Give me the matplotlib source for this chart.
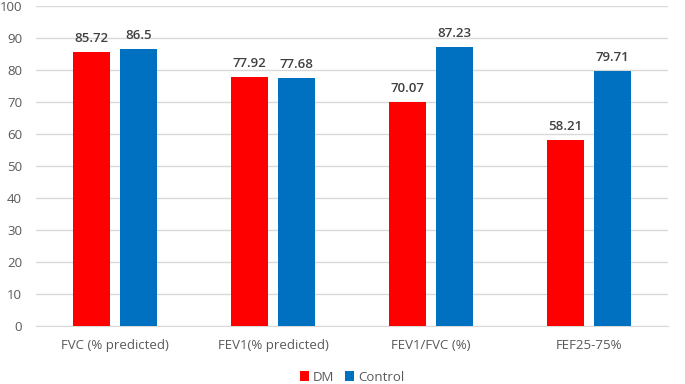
import numpy as np
import matplotlib
matplotlib.use("Agg")
import matplotlib.pyplot as plt

plt.rcParams["font.family"] = ["Open Sans", "DejaVu Sans"]

categories = ["FVC (% predicted)", "FEV1(% predicted)", "FEV1/FVC (%)", "FEF25-75%"]
dm_values = [85.72, 77.92, 70.07, 58.21]
control_values = [86.5, 77.68, 87.23, 79.71]
dm_labels = ["85.72", "77.92", "70.07", "58.21"]
control_labels = ["86.5", "77.68", "87.23", "79.71"]

RED = "#FF0000"
BLUE = "#0070C0"
TXT = "#595959"

fig = plt.figure(figsize=(6.85, 3.84), dpi=100)
ax = fig.add_axes([0.0526, 0.151, 0.9224, 0.833])

x = np.arange(len(categories))
w = 0.234
off = 0.149
b1 = ax.bar(x - off, dm_values, w, color=RED, label="DM", zorder=3)
b2 = ax.bar(x + off, control_values, w, color=BLUE, label="Control", zorder=3)

for bars, labs in ((b1, dm_labels), (b2, control_labels)):
    for r, t in zip(bars, labs):
        ax.annotate(t, (r.get_x() + r.get_width() / 2, r.get_height()),
                    xytext=(0, 5), textcoords="offset points", ha="center", va="bottom",
                    fontsize=9.5, fontweight="semibold", color="#404040")

ax.set_xlim(-0.5, len(categories) - 0.5)
ax.set_ylim(0, 100)
ax.set_yticks(range(0, 101, 10))
ax.grid(axis="y", color="#D9D9D9", linewidth=1, zorder=0)
for s in ("top", "right", "left"):
    ax.spines[s].set_visible(False)
ax.spines["bottom"].set_color("#D9D9D9")
ax.tick_params(axis="y", length=0, labelsize=9.5, colors=TXT, pad=10)
ax.tick_params(axis="x", length=0, labelsize=9.5, colors=TXT, pad=9)
ax.set_xticks(x)
ax.set_xticklabels(categories)

ax.legend(loc="center", bbox_to_anchor=(0.5, -0.16), ncol=2, frameon=False,
          fontsize=9.5, handlelength=0.7, handleheight=0.7, handletextpad=0.3,
          columnspacing=0.8, labelcolor=TXT, borderaxespad=0, borderpad=0.2)

fig.savefig("out.png", dpi=100)
